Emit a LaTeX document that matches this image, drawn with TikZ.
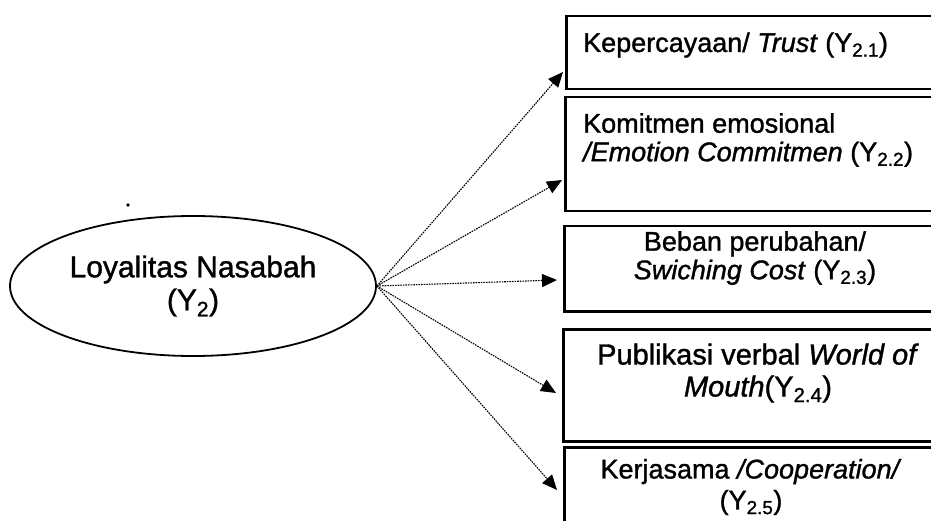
\documentclass[tikz,border=0pt]{standalone}
\usepackage{fontspec}
\setmainfont{Liberation Sans}[FakeBold=1.2]
\usetikzlibrary{shapes.geometric,arrows.meta}

\tikzset{
  latent/.style={ellipse, draw, line width=1.8pt, minimum width=366pt,
    minimum height=140pt, inner sep=0pt, align=center,
    font=\fontsize{30}{33}\selectfont},
  indbox/.style={draw, line width=2.5pt, rectangle, anchor=north west, inner sep=0pt},
  indtext/.style={inner sep=0pt, font=\fontsize{27}{28.5}\selectfont},
  loading/.style={line width=1.1pt, dash pattern=on 1.6pt off 1pt,
    -{Triangle[length=15pt,width=13pt]}},
}

\begin{document}
\begin{tikzpicture}[x=1pt,y=-1pt]
  \useasboundingbox (0,0) rectangle (931,521);
  \clip (0,0) rectangle (931,521);
  \fill[white] (0,0) rectangle (931,521);

  % latent construct
  \node[latent] (Y2) at (193,286) {Loyalitas Nasabah\\(Y\textsubscript{2})};
  \fill (128,205) circle (1.8pt);

  % indicator boxes (right side runs past the page edge)
  \node[indbox, minimum width=380pt, minimum height=73pt]  (b1) at (565,15)  {};
  \node[indbox, minimum width=381pt, minimum height=114pt] (b2) at (564,96)  {};
  \node[indbox, minimum width=382pt, minimum height=85pt]  (b3) at (563,225) {};
  \node[indbox, minimum width=383pt, minimum height=112pt] (b4) at (562,328) {};
  \node[indbox, minimum width=382pt, minimum height=100pt] (b5) at (563,446) {};

  % indicator labels
  \node[indtext, anchor=west] (l1) at (583,45)
    {Kepercayaan/ \textit{Trust} (Y\textsubscript{2.1})};
  \node[indtext, anchor=west, align=left] (l2) at (583,140)
    {Komitmen emosional\\\textit{/Emotion Commitmen} (Y\textsubscript{2.2})};
  \node[indtext, align=center] (l3) at (755,258)
    {Beban perubahan/\\\textit{Swiching Cost} (Y\textsubscript{2.3})};
  \node[indtext, align=center, font=\fontsize{29}{32}\selectfont] (l4) at (758,373)
    {Publikasi verbal \textit{World of}\\\textit{Mouth}(Y\textsubscript{2.4})};
  \node[indtext, align=center, font=\fontsize{27}{31}\selectfont] (l5) at (751,487)
    {Kerjasama \textit{/Cooperation/}\\(Y\textsubscript{2.5})};

  % arrow tips at the boxes
  \coordinate (t1) at (563,72);
  \coordinate (t2) at (562,180);
  \coordinate (t3) at (557,280);
  \coordinate (t4) at (556,393);
  \coordinate (t5) at (557,490);

  \foreach \t in {t1,t2,t3,t4,t5}
    \draw[loading] (Y2.east) -- (\t);
\end{tikzpicture}
\end{document}
